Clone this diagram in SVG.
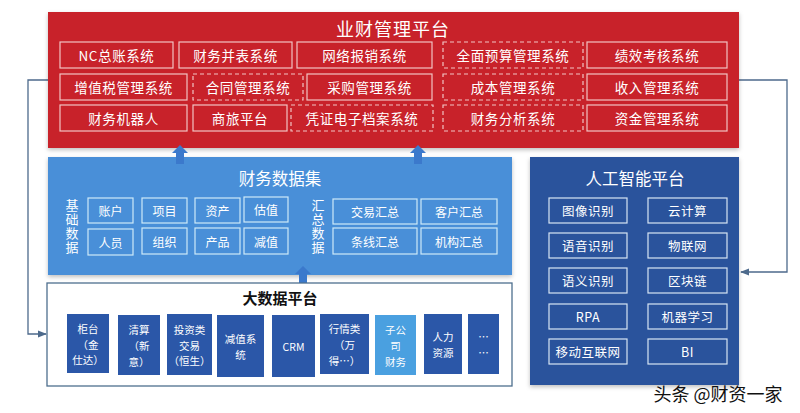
<svg xmlns="http://www.w3.org/2000/svg" width="800" height="413" viewBox="0 0 800 413">
<defs>
<style>
text{font-family:"Noto Sans CJK SC","Noto Sans",sans-serif;text-anchor:middle;dominant-baseline:central;}
.rb{fill:none;stroke:#f2c4c4;stroke-width:1.2;}
.rd{fill:none;stroke:#f2c4c4;stroke-width:1.2;stroke-dasharray:4 3;}
.rt{fill:#ffffff;font-size:13.5px;letter-spacing:0.6px;}
.bb{fill:none;stroke:#cdeaf8;stroke-width:1.2;}
.bt{fill:#ffffff;font-size:12px;}
.vt{fill:#ffffff;font-size:13px;writing-mode:vertical-rl;letter-spacing:1px;}
.ab{fill:none;stroke:#d8e4f4;stroke-width:1.2;}
.at{fill:#ffffff;font-size:12.5px;letter-spacing:0.5px;}
.db{fill:#2b57a8;}
.dt{fill:#ffffff;font-size:10.5px;}
.conn{fill:none;stroke:#4d6a8c;stroke-width:1.3;}
.up{fill:#3b79cc;}
</style>
<marker id="arr" viewBox="0 0 10 10" refX="9" refY="5" markerWidth="7" markerHeight="7" orient="auto">
<path d="M0,1 L10,5 L0,9 z" fill="#4d6a8c"/>
</marker>
<filter id="sh" x="-5%" y="-5%" width="110%" height="115%">
<feDropShadow dx="0" dy="2" stdDeviation="2" flood-color="#000" flood-opacity="0.25"/>
</filter>
</defs>
<rect width="800" height="413" fill="#ffffff"/>

<g id="connectors">
<polyline class="conn" points="49,80 28,80 28,334 46,334" marker-end="url(#arr)"/>
<polyline class="conn" points="739,80 787,80 787,272 741,272" marker-end="url(#arr)"/>
</g>

<g id="yecai-platform">
<rect x="48" y="12" width="691" height="136" fill="#c8222b" filter="url(#sh)"/>
<text x="393" y="28" fill="#ffffff" font-size="18px" letter-spacing="1">业财管理平台</text>
<rect class="rb" x="60" y="42" width="113" height="26"/><text class="rt" x="116.5" y="55">NC总账系统</text>
<rect class="rb" x="179" y="42" width="113" height="26"/><text class="rt" x="235.5" y="55">财务并表系统</text>
<rect class="rb" x="297" y="42" width="135" height="26"/><text class="rt" x="364.5" y="55">网络报销系统</text>
<rect class="rd" x="443" y="42" width="140" height="26"/><text class="rt" x="513" y="55">全面预算管理系统</text>
<rect class="rb" x="587" y="42" width="140" height="26"/><text class="rt" x="657" y="55">绩效考核系统</text>

<rect class="rb" x="60" y="74" width="127" height="26"/><text class="rt" x="123.5" y="87">增值税管理系统</text>
<rect class="rd" x="193" y="74" width="110" height="26"/><text class="rt" x="248" y="87">合同管理系统</text>
<rect class="rb" x="307" y="74" width="125" height="26"/><text class="rt" x="369.5" y="87">采购管理系统</text>
<rect class="rd" x="443" y="74" width="140" height="26"/><text class="rt" x="513" y="87">成本管理系统</text>
<rect class="rb" x="587" y="74" width="140" height="26"/><text class="rt" x="657" y="87">收入管理系统</text>

<rect class="rb" x="60" y="105" width="127" height="26"/><text class="rt" x="123.5" y="118">财务机器人</text>
<rect class="rb" x="193" y="105" width="94" height="26"/><text class="rt" x="240" y="118">商旅平台</text>
<rect class="rd" x="291" y="105" width="142" height="26"/><text class="rt" x="362" y="118">凭证电子档案系统</text>
<rect class="rd" x="443" y="105" width="140" height="26"/><text class="rt" x="513" y="118">财务分析系统</text>
<rect class="rb" x="587" y="105" width="140" height="26"/><text class="rt" x="657" y="118">资金管理系统</text>
</g>

<g id="finance-dataset">
<rect x="48" y="157" width="464" height="118" fill="#4a8fd8" filter="url(#sh)"/>
<text x="280" y="178" fill="#ffffff" font-size="16.5px">财务数据集</text>
<text class="vt" x="72" y="227">基础数据</text>
<rect class="bb" x="88" y="198" width="45" height="25"/><text class="bt" x="110.5" y="210.5">账户</text>
<rect class="bb" x="142" y="198" width="45" height="25"/><text class="bt" x="164.5" y="210.5">项目</text>
<rect class="bb" x="195" y="198" width="45" height="25"/><text class="bt" x="217.5" y="210.5">资产</text>
<rect class="bb" x="244" y="197" width="44" height="25"/><text class="bt" x="266" y="209.5">估值</text>
<rect class="bb" x="88" y="229" width="45" height="26"/><text class="bt" x="110.5" y="242">人员</text>
<rect class="bb" x="142" y="228" width="45" height="26"/><text class="bt" x="164.5" y="241">组织</text>
<rect class="bb" x="195" y="228" width="45" height="26"/><text class="bt" x="217.5" y="241">产品</text>
<rect class="bb" x="244" y="228" width="44" height="26"/><text class="bt" x="266" y="241">减值</text>
<text class="vt" x="318" y="227">汇总数据</text>
<rect class="bb" x="333" y="199" width="84" height="25"/><text class="bt" x="375" y="211.5">交易汇总</text>
<rect class="bb" x="421" y="199" width="76" height="25"/><text class="bt" x="459" y="211.5">客户汇总</text>
<rect class="bb" x="333" y="228" width="84" height="26"/><text class="bt" x="375" y="241">条线汇总</text>
<rect class="bb" x="421" y="228" width="76" height="26"/><text class="bt" x="459" y="241">机构汇总</text>
</g>

<g id="up-arrows">
<path class="up" d="M180,145 L188,153 L184,153 L184,164 L176,164 L176,153 L172,153 Z"/>
<path class="up" d="M418,145 L426,153 L422,153 L422,164 L414,164 L414,153 L410,153 Z"/>
<path class="up" d="M303,266 L311,274 L307,274 L307,285 L299,285 L299,274 L295,274 Z"/>
</g>

<g id="bigdata-platform">
<rect x="47" y="283" width="465" height="103" fill="#ffffff" stroke="#4e6f8e" stroke-width="1.3"/>
<text x="280" y="297" fill="#111111" font-size="15px" font-weight="bold">大数据平台</text>
<rect class="db" x="67" y="314" width="42" height="59"/>
<text class="dt" x="88" y="328">柜台<tspan x="88" dy="15.5">（金</tspan><tspan x="88" dy="15.5">仕达）</tspan></text>
<rect class="db" x="118" y="315" width="42" height="60"/>
<text class="dt" x="139" y="329.5">清算<tspan x="139" dy="15.5">（新</tspan><tspan x="139" dy="15.5">意）</tspan></text>
<rect class="db" x="167" y="314" width="45" height="61"/>
<text class="dt" x="189.5" y="329">投资类<tspan x="189.5" dy="15.5">交易</tspan><tspan x="189.5" dy="15.5">（恒生）</tspan></text>
<rect class="db" x="217" y="315" width="47" height="62"/>
<text class="dt" x="240.5" y="338">减值系<tspan x="240.5" dy="15.5">统</tspan></text>
<rect class="db" x="272" y="315" width="43" height="62"/>
<text class="dt" x="293.5" y="346">CRM</text>
<rect class="db" x="320" y="314" width="49" height="60"/>
<text class="dt" x="344.5" y="328.5">行情类<tspan x="344.5" dy="15.5">（万</tspan><tspan x="344.5" dy="15.5">得…）</tspan></text>
<rect x="375" y="315" width="41" height="60" fill="#4aa0e0"/>
<text class="dt" x="395.5" y="329.5">子公<tspan x="395.5" dy="15.5">司</tspan><tspan x="395.5" dy="15.5">财务</tspan></text>
<rect class="db" x="424" y="314" width="38" height="60"/>
<text class="dt" x="443" y="336">人力<tspan x="443" dy="15.5">资源</tspan></text>
<rect class="db" x="468" y="314" width="31" height="60"/>
<text class="dt" x="483.5" y="336">…<tspan x="483.5" dy="15.5">…</tspan></text>
</g>

<g id="ai-platform">
<rect x="530" y="157" width="209" height="228" fill="#29539c" filter="url(#sh)"/>
<text x="635" y="178" fill="#ffffff" font-size="16.5px">人工智能平台</text>
<rect class="ab" x="549" y="198" width="78" height="25"/><text class="at" x="588" y="210.5">图像识别</text>
<rect class="ab" x="648" y="198" width="79" height="25"/><text class="at" x="687.5" y="210.5">云计算</text>
<rect class="ab" x="549" y="233" width="78" height="25"/><text class="at" x="588" y="245.5">语音识别</text>
<rect class="ab" x="648" y="233" width="79" height="25"/><text class="at" x="687.5" y="245.5">物联网</text>
<rect class="ab" x="549" y="268" width="78" height="25"/><text class="at" x="588" y="280.5">语义识别</text>
<rect class="ab" x="648" y="268" width="79" height="25"/><text class="at" x="687.5" y="280.5">区块链</text>
<rect class="ab" x="549" y="304" width="78" height="25"/><text class="at" x="588" y="316.5">RPA</text>
<rect class="ab" x="648" y="304" width="79" height="25"/><text class="at" x="687.5" y="316.5">机器学习</text>
<rect class="ab" x="549" y="339" width="78" height="25"/><text class="at" x="588" y="351.5">移动互联网</text>
<rect class="ab" x="648" y="339" width="79" height="25"/><text class="at" x="687.5" y="351.5">BI</text>
</g>

<text x="718" y="393" fill="#111111" font-size="18px">头条 @财资一家</text>
</svg>
